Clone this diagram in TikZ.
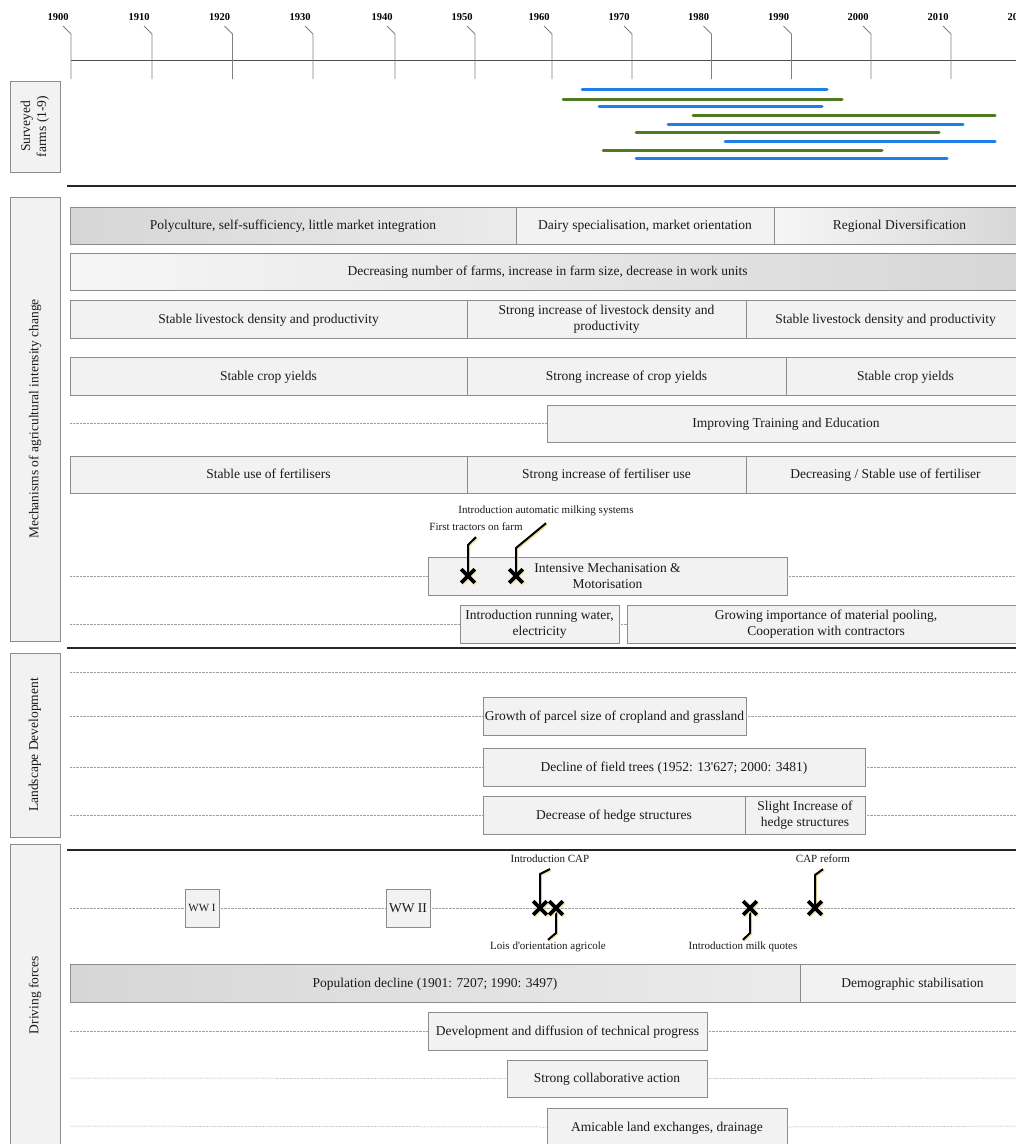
\documentclass[tikz,border=0pt]{standalone}
\usepackage{fontspec}
\setmainfont{Liberation Serif}[Ligatures=TeXOff]
\usetikzlibrary{shapes.misc}
\definecolor{boxfill}{HTML}{F2F2F2}
\definecolor{boxdraw}{HTML}{8C8C8C}
\definecolor{dotcol}{HTML}{A0A0A0}
\definecolor{farmblue}{HTML}{1F7FEA}
\definecolor{farmgreen}{HTML}{4F7A1F}
\definecolor{gdark}{HTML}{D6D6D6}
\definecolor{gmid}{HTML}{EBEBEB}
\definecolor{glight}{HTML}{F6F6F6}
\definecolor{shadowy}{HTML}{F3E3A8}
\definecolor{txt}{HTML}{1A1A1A}
\newcommand\mybox[7][]{\node[box,#1,minimum width={#5-#3},minimum height={#6-#4}] (#2) at ({(#3+#5)/2},{(#4+#6)/2}) {#7};}
\begin{document}
\begin{tikzpicture}[x=1pt,y=-1pt,
  box/.style={draw=boxdraw,fill=boxfill,line width=0.8pt,align=center,text=txt,
    font=\fontsize{13.5}{16}\selectfont,inner sep=2pt,text height=10pt,text depth=2pt},
  twoline/.style={text height=,text depth=},
  panel/.style={box,rotate=90,twoline},
  shadeL/.style={shade,left color=gdark,right color=gmid},
  shadeR/.style={shade,left color=glight,right color=gdark},
  dotline/.style={draw=dotcol,line width=0.5pt,dash pattern=on 0.7pt off 0.7pt},
  sepline/.style={draw=black!85,line width=2pt},
  axisline/.style={draw=black!70,line width=0.7pt},
  tickline/.style={draw=black!50,line width=0.9pt},
  yearlab/.style={font=\bfseries\fontsize{10.5}{12}\selectfont,inner sep=0pt},
  farmB/.style={draw=farmblue,line width=3pt,line cap=round},
  farmG/.style={draw=farmgreen,line width=3pt,line cap=round},
  evlab/.style={font=\fontsize{11}{13}\selectfont,inner sep=1pt,text=txt},
  callout/.style={draw=black,line width=2pt,
    preaction={draw=shadowy,line width=2pt,transform canvas={shift={(1.2pt,-1.2pt)}}}},
  xmark/.style={cross out,draw=black,line width=3.6pt,minimum size=10pt,inner sep=0pt,
    preaction={draw=shadowy,line width=3.6pt,transform canvas={shift={(1.2pt,-1.2pt)}}}}
]
\useasboundingbox (0,0) rectangle (1016,1144);
\clip (0,0) rectangle (1016,1144);
\fill[white] (0,0) rectangle (1016,1144);

% ---------- time axis ----------
\draw[axisline] (71,60) -- (1030,60);
\foreach \yr/\xx in {1900/71,1910/152,1920/232.5,1930/313,1940/395,1950/475,1960/552,1970/632,1980/711.5,1990/791.5,2000/871,2010/951,2020/1031}{
  \node[yearlab] (y\yr) at (\xx-13,17) {\yr};
  \draw[tickline] (\xx-8,26) -- (\xx,34) -- (\xx,79);
}

% ---------- left panels ----------
\node[panel,minimum width=91,minimum height=50] (p1) at (35,126.5) {Surveyed\\farms (1-9)};
\node[panel,minimum width=444,minimum height=50] (p2) at (35,419) {Mechanisms of agricultural intensity change};
\node[panel,minimum width=184,minimum height=50] (p3) at (35,745) {Landscape Development};
\node[panel,minimum width=302,minimum height=50] (p4) at (35,995) {Driving forces};

% ---------- separators ----------
\draw[sepline] (67,186) -- (1020,186);
\draw[sepline] (67,648) -- (1020,648);
\draw[sepline] (67,850) -- (1020,850);

% ---------- surveyed farms ----------
\draw[farmB] (582,89.3) -- (827,89.3);
\draw[farmG] (563,99) -- (842,99);
\draw[farmB] (599,106) -- (822,106);
\draw[farmG] (693,115.7) -- (995,115.7);
\draw[farmB] (668,124.3) -- (963,124.3);
\draw[farmG] (636,132.7) -- (939,132.7);
\draw[farmB] (725,141.3) -- (995,141.3);
\draw[farmG] (603,150) -- (882,150);
\draw[farmB] (636,158.3) -- (947,158.3);

% ---------- mechanisms ----------
\mybox[shadeL]{poly}{70}{207}{516}{244}{Polyculture, self-sufficiency, little market integration}
\mybox{dairy}{516}{207}{774}{244}{Dairy specialisation, market orientation}
\mybox[shadeR]{regio}{774}{207}{1025}{244}{Regional Diversification}

\mybox[shadeR]{decr}{70}{253}{1025}{290}{Decreasing number of farms, increase in farm size, decrease in work units}

\mybox{live1}{70}{300}{467}{338}{Stable livestock density and productivity}
\mybox[twoline]{live2}{467}{300}{746}{338}{Strong increase of livestock density and\\productivity}
\mybox{live3}{746}{300}{1025}{338}{Stable livestock density and productivity}

\mybox{crop1}{70}{357}{467}{395}{Stable crop yields}
\mybox{crop2}{467}{357}{786}{395}{Strong increase of crop yields}
\mybox{crop3}{786}{357}{1025}{395}{Stable crop yields}

\coordinate (tr0) at (70,423.5);
\mybox{train}{547}{405}{1025}{442}{Improving Training and Education}
\draw[dotline] (tr0) -- (train.west);

\mybox{fert1}{70}{456}{467}{493}{Stable use of fertilisers}
\mybox{fert2}{467}{456}{746}{493}{Strong increase of fertiliser use}
\mybox{fert3}{746}{456}{1025}{493}{Decreasing / Stable use of fertiliser}

\coordinate (me0) at (70,576);
\coordinate (me1) at (1025,576);
\mybox[twoline]{mech}{428}{557}{787}{595}{Intensive Mechanisation \&\\Motorisation}
\draw[dotline] (me0) -- (mech.west);
\draw[dotline] (mech.east) -- (me1);

\coordinate (wa0) at (70,624);
\mybox[twoline]{water}{460}{605}{619}{643}{Introduction running water,\\electricity}
\mybox[twoline]{pool}{627}{605}{1025}{643}{Growing importance of material pooling,\\Cooperation with contractors}
\draw[dotline] (wa0) -- (water.west);
\draw[dotline] (water.east) -- (pool.west);

\node[evlab] (tractl) at (476,527) {First tractors on farm};
\node[evlab] (milkingl) at (546,511) {Introduction automatic milking systems};
\coordinate (tractc) at (468,576);
\coordinate (milkingc) at (516,576);
\draw[callout] (tractc) -- ++(0,-31) -- ([yshift=-5pt]tractl.south);
\draw[callout] (milkingc) -- ++(0,-28) -- ([yshift=-6pt]milkingl.south);
\node[xmark] (tract) at (tractc) {};
\node[xmark] (milking) at (milkingc) {};

% ---------- landscape ----------
\coordinate (la0) at (70,672);
\coordinate (la1) at (1025,672);
\draw[dotline] (la0) -- (la1);

\coordinate (pa0) at (70,716);
\coordinate (pa1) at (1025,716);
\mybox{parcel}{483}{697}{746}{735}{Growth of parcel size of cropland and grassland}
\draw[dotline] (pa0) -- (parcel.west);
\draw[dotline] (parcel.east) -- (pa1);

\coordinate (ft0) at (70,767);
\coordinate (ft1) at (1025,767);
\mybox{trees}{483}{748}{865}{786}{Decline of field trees (1952: 13'627; 2000: 3481)}
\draw[dotline] (ft0) -- (trees.west);
\draw[dotline] (trees.east) -- (ft1);

\coordinate (he0) at (70,815);
\coordinate (he1) at (1025,815);
\mybox{hedge1}{483}{796}{745}{834}{Decrease of hedge structures}
\mybox[twoline]{hedge2}{745}{796}{865}{834}{Slight Increase of\\hedge structures}
\draw[dotline] (he0) -- (hedge1.west);
\draw[dotline] (hedge2.east) -- (he1);

% ---------- driving forces ----------
\coordinate (ev0) at (70,908);
\coordinate (ev1) at (1025,908);
\mybox[font=\fontsize{11}{13}\selectfont,inner sep=1pt,text height=8pt,text depth=1.5pt]{ww1}{185}{889}{219}{927}{WW I}
\mybox{ww2}{386}{889}{430}{927}{WW II}
\draw[dotline] (ev0) -- (ww1.west);
\draw[dotline] (ww1.east) -- (ww2.west);
\draw[dotline] (ww2.east) -- (ev1);

\node[evlab] (capl) at (550,859) {Introduction CAP};
\node[evlab] (loisl) at (548,947) {Lois d'orientation agricole};
\node[evlab] (milkl) at (743,947) {Introduction milk quotes};
\node[evlab] (caprefl) at (823,859) {CAP reform};
\coordinate (capc) at (540,908);
\coordinate (loisc) at (556,908);
\coordinate (milkc) at (750,908);
\coordinate (caprefc) at (815,908);
\draw[callout] (capc) -- ++(0,-34) -- ([yshift=-5pt]capl.south);
\draw[callout] (loisc) -- ++(0,25) -- ([yshift=1pt]loisl.north);
\draw[callout] (milkc) -- ++(0,25) -- ([yshift=1pt]milkl.north);
\draw[callout] (caprefc) -- ++(0,-33) -- ([yshift=-5pt]caprefl.south);
\node[xmark] (cap) at (capc) {};
\node[xmark] (lois) at (loisc) {};
\node[xmark] (milk) at (milkc) {};
\node[xmark] (capref) at (caprefc) {};

\mybox[shade,left color=gdark,right color=gmid]{pop}{70}{964}{800}{1002}{Population decline (1901: 7207; 1990: 3497)}
\mybox{demo}{800}{964}{1025}{1002}{Demographic stabilisation}

\coordinate (te0) at (70,1031);
\coordinate (te1) at (1025,1031);
\mybox{tech}{428}{1012}{707}{1050}{Development and diffusion of technical progress}
\draw[dotline] (te0) -- (tech.west);
\draw[dotline] (tech.east) -- (te1);

\coordinate (co0) at (70,1078);
\coordinate (co1) at (1025,1078);
\mybox{collab}{507}{1060}{707}{1097}{Strong collaborative action}
\draw[dotline] (co0) -- (collab.west);
\draw[dotline] (collab.east) -- (co1);

\coordinate (am0) at (70,1126);
\coordinate (am1) at (1025,1126);
\mybox{amic}{547}{1108}{787}{1146}{Amicable land exchanges, drainage}
\draw[dotline] (am0) -- (amic.west);
\draw[dotline] (amic.east) -- (am1);
\end{tikzpicture}
\end{document}
